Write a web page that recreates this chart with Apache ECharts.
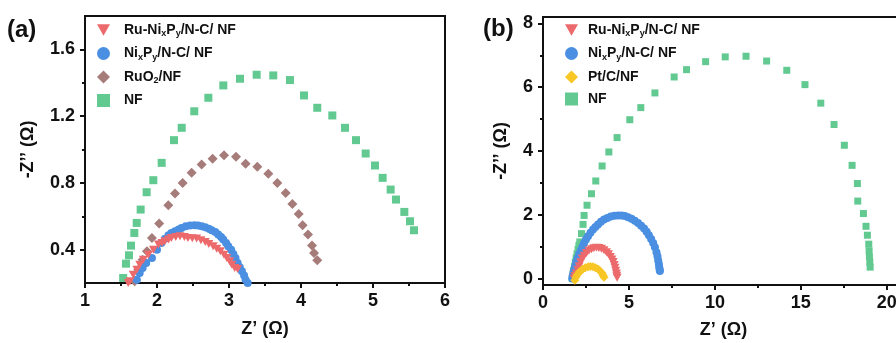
<!DOCTYPE html>
<html>
<head>
<meta charset="utf-8">
<script src="https://cdn.jsdelivr.net/npm/echarts@6/dist/echarts.min.js"></script>
<style>
  html, body { margin: 0; padding: 0; background: #fff; }
  #c { width: 896px; height: 343px; }
</style>
</head>
<body>
<div id="c"></div>
<script>
// ---- Nyquist data, panel (a): [Z', -Z''] in ohm ----
const ruNiA = [[1.60,0.20],[1.625,0.21],[1.67,0.25],[1.72,0.28],[1.76,0.31],[1.81,0.34],[1.88,0.37],[1.95,0.40],[2.02,0.43],[2.07,0.44],[2.11,0.45],[2.16,0.46],[2.20,0.47],[2.26,0.475],[2.32,0.48],[2.38,0.475],[2.43,0.47],[2.49,0.468],[2.55,0.466],[2.61,0.456],[2.67,0.446],[2.72,0.434],[2.78,0.42],[2.83,0.405],[2.88,0.39],[2.93,0.37],[2.97,0.35],[3.01,0.33],[3.04,0.31],[3.08,0.29],[3.12,0.284]];
const niPA = [[1.72,0.22],[1.76,0.26],[1.80,0.29],[1.85,0.32],[1.93,0.35],[2.00,0.40],[2.06,0.44],[2.11,0.465],[2.16,0.486],[2.20,0.50],[2.25,0.51],[2.30,0.52],[2.34,0.53],[2.40,0.54],[2.46,0.544],[2.52,0.546],[2.57,0.544],[2.62,0.54],[2.67,0.534],[2.72,0.525],[2.76,0.516],[2.81,0.505],[2.85,0.49],[2.89,0.475],[2.92,0.46],[2.96,0.44],[2.99,0.42],[3.03,0.40],[3.06,0.374],[3.09,0.35],[3.12,0.32],[3.15,0.295],[3.18,0.27],[3.21,0.245],[3.23,0.22],[3.26,0.20]];
const ruo2A = [[1.69,0.21],[1.74,0.28],[1.80,0.34],[1.86,0.39],[1.93,0.47],[2.03,0.556],[2.157,0.666],[2.25,0.736],[2.356,0.80],[2.481,0.86],[2.62,0.91],[2.773,0.944],[2.931,0.966],[3.097,0.956],[3.231,0.914],[3.393,0.896],[3.546,0.854],[3.671,0.80],[3.787,0.74],[3.88,0.674],[3.968,0.614],[4.023,0.546],[4.097,0.49],[4.153,0.424],[4.181,0.38],[4.226,0.336]];
const nfA = [[1.53,0.23],[1.569,0.316],[1.611,0.366],[1.639,0.424],[1.685,0.50],[1.718,0.56],[1.773,0.64],[1.856,0.744],[1.949,0.816],[2.065,0.92],[2.236,1.056],[2.343,1.13],[2.518,1.229],[2.713,1.31],[2.921,1.384],[3.153,1.424],[3.384,1.448],[3.615,1.444],[3.847,1.416],[4.042,1.324],[4.226,1.25],[4.435,1.204],[4.611,1.13],[4.764,1.056],[4.898,0.976],[5.028,0.904],[5.134,0.83],[5.245,0.76],[5.319,0.70],[5.435,0.626],[5.514,0.57],[5.569,0.516]];

// ---- Nyquist data, panel (b) ----
const ruNiB = [[1.80,0.00],[1.86,0.08],[1.94,0.16],[2.02,0.28],[2.10,0.39],[2.19,0.51],[2.29,0.63],[2.40,0.72],[2.53,0.80],[2.67,0.87],[2.82,0.92],[2.96,0.95],[3.11,0.97],[3.25,0.96],[3.40,0.94],[3.55,0.89],[3.69,0.83],[3.81,0.76],[3.92,0.68],[4.01,0.60],[4.08,0.52],[4.14,0.43],[4.19,0.34],[4.23,0.25],[4.27,0.16],[4.29,0.09],[4.31,0.03]];
const niPB = [[1.70,0.00],[1.73,0.10],[1.78,0.22],[1.85,0.36],[1.92,0.50],[2.00,0.63],[2.10,0.76],[2.20,0.89],[2.30,1.01],[2.39,1.12],[2.50,1.23],[2.62,1.33],[2.76,1.44],[2.91,1.54],[3.05,1.62],[3.20,1.70],[3.37,1.78],[3.55,1.85],[3.74,1.90],[3.94,1.95],[4.15,1.97],[4.37,1.98],[4.57,1.98],[4.76,1.96],[4.95,1.92],[5.15,1.88],[5.34,1.81],[5.53,1.74],[5.71,1.66],[5.88,1.57],[6.03,1.47],[6.16,1.36],[6.29,1.24],[6.41,1.12],[6.51,0.98],[6.60,0.83],[6.66,0.70],[6.70,0.57],[6.74,0.46],[6.76,0.36],[6.79,0.28],[6.80,0.24]];
const ptcB = [[1.85,-0.05],[1.92,0.05],[2.00,0.13],[2.10,0.20],[2.20,0.25],[2.32,0.30],[2.46,0.34],[2.62,0.37],[2.76,0.38],[2.91,0.37],[3.05,0.34],[3.20,0.30],[3.32,0.24],[3.44,0.17],[3.50,0.10],[3.55,0.04]];
const nfB = [[1.70,0.00],[1.74,0.12],[1.78,0.25],[1.83,0.38],[1.88,0.52],[1.93,0.65],[1.98,0.78],[2.04,0.92],[2.09,1.04],[2.14,1.15],[2.24,1.41],[2.33,1.70],[2.39,1.98],[2.56,2.30],[2.82,2.66],[3.07,3.06],[3.44,3.53],[3.83,3.97],[4.31,4.42],[5.05,4.98],[5.69,5.36],[6.51,5.82],[7.63,6.32],[8.35,6.55],[9.46,6.80],[10.60,6.95],[11.81,6.97],[13.01,6.82],[14.18,6.53],[15.24,6.08],[16.16,5.50],[16.93,4.83],[17.53,4.18],[17.98,3.55],[18.29,2.98],[18.31,2.43],[18.64,2.04],[18.79,1.64],[18.87,1.36],[18.95,1.08],[18.97,0.87],[18.99,0.68],[19.01,0.52],[19.03,0.36]];

// ---- tick values ----
const xTicksA = [1, 2, 3, 4, 5, 6];
const xMinorA = [1.5, 2.5, 3.5, 4.5, 5.5];
const yTicksA = [0.4, 0.8, 1.2, 1.6];
const yMinorA = [0.6, 1.0, 1.4];
const xTicksB = [0, 5, 10, 15, 20];
const xMinorB = [2.5, 7.5, 12.5, 17.5];
const yTicksB = [0, 2, 4, 6, 8];
const yMinorB = [1, 3, 5, 7];

// ---- series names ----
const N_RUNI = 'Ru-NixPy/N-C/ NF';
const N_NIP = 'NixPy/N-C/ NF';
const N_RUO2 = 'RuO2/NF';
const N_PTC = 'Pt/C/NF';
const N_NF = 'NF';

const FONT = '"Liberation Sans", Arial, Helvetica, sans-serif';
const INK = '#111';
const C_RED = '#ec6a6c';
const C_BLUE = '#4a8fe2';
const C_BROWN = '#a67c7a';
const C_GREEN = '#62c991';
const C_YELLOW = '#f8c625';
const TRI_DOWN = 'path://M0,0 L10,0 L5,8.66 Z';

function mainAxis(gridIndex, min, max, ticks, name, nameGap, labelMargin, pos) {
  return {
    type: 'value', gridIndex, min, max, position: pos,
    name, nameLocation: 'middle', nameGap,
    nameTextStyle: { fontFamily: FONT, fontWeight: 'bold', fontSize: 18, color: INK },
    axisLine: { show: true, onZero: false, lineStyle: { color: INK, width: 2 } },
    axisTick: { show: true, customValues: ticks, length: 5, lineStyle: { color: INK, width: 2 } },
    axisLabel: { show: true, customValues: ticks, margin: labelMargin,
      fontFamily: FONT, fontWeight: 'bold', fontSize: 18, color: INK },
    splitLine: { show: false }
  };
}
function minorAxis(gridIndex, min, max, ticks, pos) {
  return {
    type: 'value', gridIndex, min, max, position: pos,
    axisLine: { show: false, onZero: false },
    axisTick: { show: true, customValues: ticks, length: 3, lineStyle: { color: INK, width: 2 } },
    axisLabel: { show: false },
    splitLine: { show: false }
  };
}

function legendRich(spacer) {
  return {
    sp: { width: spacer },
    n: { fontFamily: FONT, fontWeight: 'bold', fontSize: 14, color: INK },
    s: { fontFamily: FONT, fontWeight: 'bold', fontSize: 9, color: INK, verticalAlign: 'bottom', padding: [8, 0, 0, 0] }
  };
}
function legendLabel(name) {
  switch (name) {
    case N_RUNI: return '{sp| }{n|Ru-Ni}{s|x}{n|P}{s|y}{n|/N-C/ NF}';
    case N_NIP: return '{sp| }{n|Ni}{s|x}{n|P}{s|y}{n|/N-C/ NF}';
    case N_RUO2: return '{sp| }{n|RuO}{s|2}{n|/NF}';
    default: return '{sp| }{n|' + name + '}';
  }
}

function scatter(name, data, xi, yi, symbol, size, color) {
  return {
    type: 'scatter', name, data, xAxisIndex: xi, yAxisIndex: yi,
    symbol, symbolSize: size, itemStyle: { color, opacity: 1 },
    emphasis: { disabled: true }, silent: true
  };
}

const chart = echarts.init(document.getElementById('c'), null, { renderer: 'canvas' });
chart.setOption({
  animation: false,
  backgroundColor: '#fff',
  grid: [
    { left: 85, top: 16, width: 360, height: 267, show: true, borderColor: INK, borderWidth: 2,
      containLabel: false, outerBoundsMode: 'none' },
    { left: 543, top: 17, width: 361, height: 268, show: true, borderColor: INK, borderWidth: 2,
      containLabel: false, outerBoundsMode: 'none' }
  ],
  xAxis: [
    mainAxis(0, 1, 6, xTicksA, 'Z’ (Ω)', 37, 9, 'bottom'),
    minorAxis(0, 1, 6, xMinorA, 'bottom'),
    mainAxis(1, 0, 21, xTicksB, 'Z’ (Ω)', 36, 9, 'bottom'),
    minorAxis(1, 0, 21, xMinorB, 'bottom')
  ],
  yAxis: [
    mainAxis(0, 0.2, 1.8, yTicksA, '-Z’’ (Ω)', 48, 10, 'left'),
    minorAxis(0, 0.2, 1.8, yMinorA, 'left'),
    mainAxis(1, -0.2, 8.2, yTicksB, '-Z’’ (Ω)', 33, 10, 'left'),
    minorAxis(1, -0.2, 8.2, yMinorB, 'left')
  ],
  legend: [
    {
      orient: 'vertical', left: 92, top: 18, itemWidth: 13, itemHeight: 13, itemGap: 8,
      data: [
        { name: N_RUNI, icon: TRI_DOWN },
        { name: N_NIP, icon: 'circle' },
        { name: N_RUO2, icon: 'diamond' },
        { name: N_NF, icon: 'rect' }
      ],
      formatter: legendLabel,
      textStyle: { rich: legendRich(9) },
      selectedMode: false
    },
    {
      orient: 'vertical', left: 560, top: 18, itemWidth: 13, itemHeight: 13, itemGap: 8,
      data: [
        { name: N_RUNI, icon: TRI_DOWN },
        { name: N_NIP, icon: 'circle' },
        { name: N_PTC, icon: 'diamond' },
        { name: N_NF, icon: 'rect' }
      ],
      formatter: legendLabel,
      textStyle: { rich: legendRich(5) },
      selectedMode: false
    }
  ],
  graphic: [
    { type: 'text', left: 7, top: 18, style: { text: '(a)', font: 'bold 24px ' + FONT, fill: INK } },
    { type: 'text', left: 483, top: 17, style: { text: '(b)', font: 'bold 24px ' + FONT, fill: INK } }
  ],
  series: [
    scatter(N_NF, nfA, 0, 0, 'rect', 8, C_GREEN),
    scatter(N_RUO2, ruo2A, 0, 0, 'diamond', 10, C_BROWN),
    scatter(N_NIP, niPA, 0, 0, 'circle', 8, C_BLUE),
    scatter(N_RUNI, ruNiA, 0, 0, TRI_DOWN, [9, 8], C_RED),
    scatter(N_NF, nfB, 2, 2, 'rect', 7, C_GREEN),
    scatter(N_NIP, niPB, 2, 2, 'circle', 8, C_BLUE),
    scatter(N_RUNI, ruNiB, 2, 2, TRI_DOWN, [9, 8], C_RED),
    scatter(N_PTC, ptcB, 2, 2, 'diamond', 9, C_YELLOW)
  ]
});
</script>
</body>
</html>
